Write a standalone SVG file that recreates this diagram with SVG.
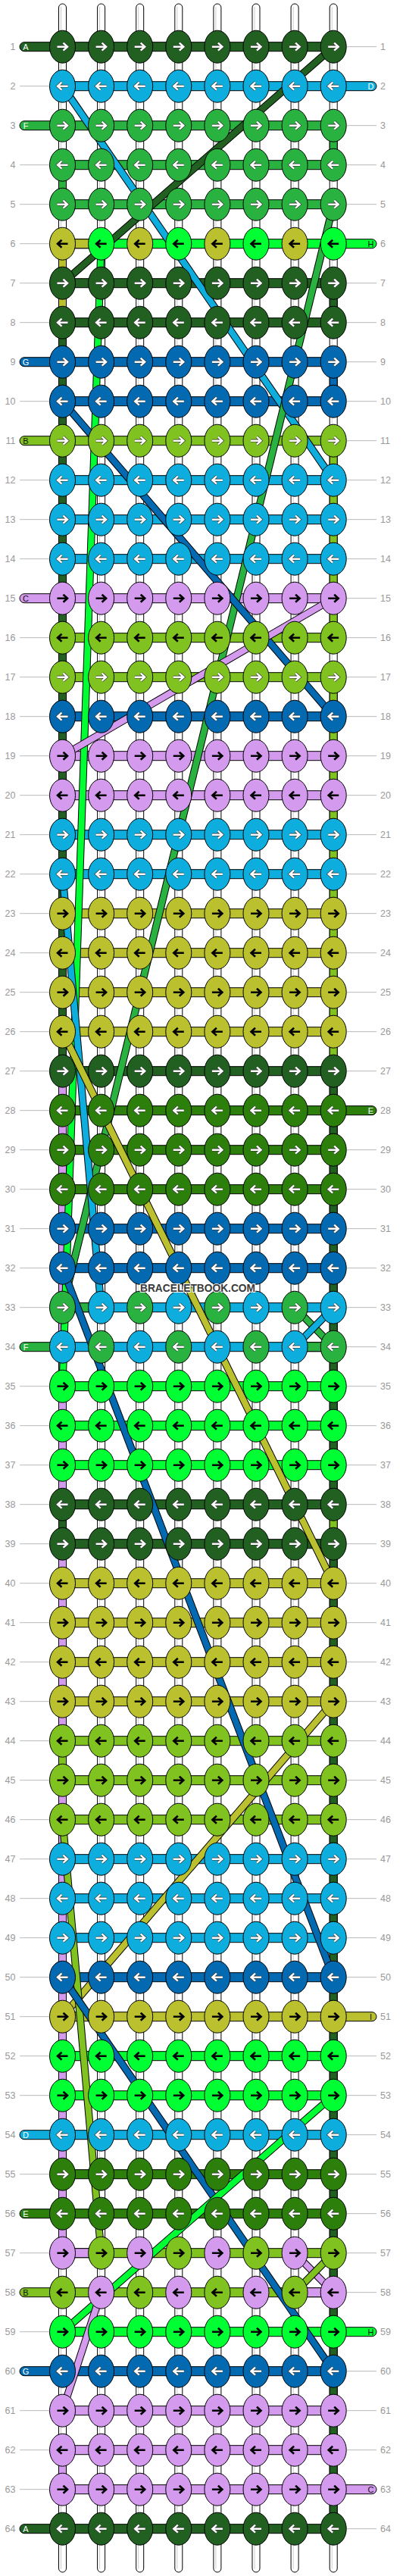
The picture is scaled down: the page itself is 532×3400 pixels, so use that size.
<svg xmlns="http://www.w3.org/2000/svg" width="532" height="3400" viewBox="0 0 532 3400">
<style>
.dg{fill:#216021}.mg{fill:#2b7f0a}.gr{fill:#29b240}.bg{fill:#00ff33}.lb{fill:#0daede}.db{fill:#036ab2}.li{fill:#80c21f}.ol{fill:#bbc12e}.lv{fill:#d49aee}
.xdg{stroke:#216021}.xgr{stroke:#29b240}.xbg{stroke:#00ff33}.xlb{stroke:#0daede}.xdb{stroke:#036ab2}.xli{stroke:#80c21f}.xol{stroke:#bbc12e}.xlv{stroke:#d49aee}
.num{font-family:"Liberation Sans",Arial,sans-serif;font-size:12.5px;fill:#999}
.lab{font-family:"Liberation Sans",Arial,sans-serif;font-size:11px;text-anchor:middle}
.o{stroke:#000;stroke-width:10;fill:none}
.c{stroke-width:8;fill:none}
.sg{stroke:#000;stroke-width:1}
</style>
<defs>
<path id="pr" d="M-7 0H6M1-5L6.5 0L1 5"/>
<path id="pl" d="M7 0H-6M-1-5L-6.5 0L-1 5"/>
<g id="wR" fill="none"><use href="#pr" stroke="#333" stroke-width="3.8"/><use href="#pr" stroke="#fff" stroke-width="2.5"/></g>
<g id="wL" fill="none"><use href="#pl" stroke="#333" stroke-width="3.8"/><use href="#pl" stroke="#fff" stroke-width="2.5"/></g>
<g id="bR" fill="none"><use href="#pr" stroke="#000" stroke-width="2.6"/></g>
<g id="bL" fill="none"><use href="#pl" stroke="#000" stroke-width="2.6"/></g>
<ellipse id="e" rx="17" ry="21.5" stroke="#000" stroke-width="1"/>
<g id="kRw"><use href="#e"/><use href="#wR"/></g>
<g id="kLw"><use href="#e"/><use href="#wL"/></g>
<g id="kRb"><use href="#e"/><use href="#bR"/></g>
<g id="kLb"><use href="#e"/><use href="#bL"/></g>
<g id="RRw"><use href="#kRw" x="82.5"/><use href="#kRw" x="133.6"/><use href="#kRw" x="184.7"/><use href="#kRw" x="235.8"/><use href="#kRw" x="286.9"/><use href="#kRw" x="338"/><use href="#kRw" x="389.1"/><use href="#kRw" x="440.2"/></g>
<g id="RLw"><use href="#kLw" x="82.5"/><use href="#kLw" x="133.6"/><use href="#kLw" x="184.7"/><use href="#kLw" x="235.8"/><use href="#kLw" x="286.9"/><use href="#kLw" x="338"/><use href="#kLw" x="389.1"/><use href="#kLw" x="440.2"/></g>
<g id="RRb"><use href="#kRb" x="82.5"/><use href="#kRb" x="133.6"/><use href="#kRb" x="184.7"/><use href="#kRb" x="235.8"/><use href="#kRb" x="286.9"/><use href="#kRb" x="338"/><use href="#kRb" x="389.1"/><use href="#kRb" x="440.2"/></g>
<g id="RLb"><use href="#kLb" x="82.5"/><use href="#kLb" x="133.6"/><use href="#kLb" x="184.7"/><use href="#kLb" x="235.8"/><use href="#kLb" x="286.9"/><use href="#kLb" x="338"/><use href="#kLb" x="389.1"/><use href="#kLb" x="440.2"/></g>
<rect id="bar" x="82.5" y="-6" width="357.7" height="12" stroke="#000"/>
<rect id="seg" x="0" y="-6" width="51.1" height="12" stroke="#000"/>
<rect id="exl" x="26" y="-6" width="60" height="12" rx="6" stroke="#000"/>
<rect id="exr" x="437" y="-6" width="60" height="12" rx="6" stroke="#000"/>
<path id="d1" d="M440.2 52L82.5 364"/>
<path id="d2" d="M82.5 104L440.2 624"/>
<path id="d3" d="M440.2 260L82.5 1716"/>
<path id="d4" d="M133.6 312L82.5 1820"/>
<path id="d5" d="M82.5 520L440.2 936"/>
<path id="d6" d="M440.2 780L82.5 988"/>
<path id="d7" d="M82.5 1144L133.6 1716"/>
<path id="d8" d="M82.5 1352L440.2 2080"/>
<path id="d9" d="M82.5 1664L440.2 2600"/>
<path id="d10" d="M389.1 1716L440.2 1768"/>
<path id="d11" d="M440.2 1716L389.1 1768"/>
<path id="d12" d="M440.2 2236L82.5 2652"/>
<path id="d13" d="M82.5 2392L133.6 2964"/>
<path id="d14" d="M440.2 2756L82.5 3068"/>
<path id="d15" d="M82.5 2600L440.2 3120"/>
<path id="d16" d="M389.1 2964L440.2 3016"/>
<path id="d17" d="M440.2 2964L389.1 3016"/>
<path id="d18" d="M133.6 3016L82.5 3172"/>
</defs>
<rect width="532" height="3400" fill="#fff"/>
<g transform="translate(0,9.7)">
<g id="guides">
<path stroke="#bbb" stroke-width="1" fill="none" d="M26 52H65M458 52H497M26 104H65M458 104H497M26 156H65M458 156H497M26 208H65M458 208H497M26 260H65M458 260H497M26 312H65M458 312H497M26 364H65M458 364H497M26 416H65M458 416H497M26 468H65M458 468H497M26 520H65M458 520H497M26 572H65M458 572H497M26 624H65M458 624H497M26 676H65M458 676H497M26 728H65M458 728H497M26 780H65M458 780H497M26 832H65M458 832H497M26 884H65M458 884H497M26 936H65M458 936H497M26 988H65M458 988H497M26 1040H65M458 1040H497M26 1092H65M458 1092H497M26 1144H65M458 1144H497M26 1196H65M458 1196H497M26 1248H65M458 1248H497M26 1300H65M458 1300H497M26 1352H65M458 1352H497M26 1404H65M458 1404H497M26 1456H65M458 1456H497M26 1508H65M458 1508H497M26 1560H65M458 1560H497M26 1612H65M458 1612H497M26 1664H65M458 1664H497M26 1716H65M458 1716H497M26 1768H65M458 1768H497M26 1820H65M458 1820H497M26 1872H65M458 1872H497M26 1924H65M458 1924H497M26 1976H65M458 1976H497M26 2028H65M458 2028H497M26 2080H65M458 2080H497M26 2132H65M458 2132H497M26 2184H65M458 2184H497M26 2236H65M458 2236H497M26 2288H65M458 2288H497M26 2340H65M458 2340H497M26 2392H65M458 2392H497M26 2444H65M458 2444H497M26 2496H65M458 2496H497M26 2548H65M458 2548H497M26 2600H65M458 2600H497M26 2652H65M458 2652H497M26 2704H65M458 2704H497M26 2756H65M458 2756H497M26 2808H65M458 2808H497M26 2860H65M458 2860H497M26 2912H65M458 2912H497M26 2964H65M458 2964H497M26 3016H65M458 3016H497M26 3068H65M458 3068H497M26 3120H65M458 3120H497M26 3172H65M458 3172H497M26 3224H65M458 3224H497M26 3276H65M458 3276H497M26 3328H65M458 3328H497"/>
<g class="num" text-anchor="end">
<text x="20.5" y="56.5">1</text><text x="20.5" y="108.5">2</text><text x="20.5" y="160.5">3</text><text x="20.5" y="212.5">4</text><text x="20.5" y="264.5">5</text><text x="20.5" y="316.5">6</text><text x="20.5" y="368.5">7</text><text x="20.5" y="420.5">8</text><text x="20.5" y="472.5">9</text><text x="20.5" y="524.5">10</text><text x="20.5" y="576.5">11</text><text x="20.5" y="628.5">12</text><text x="20.5" y="680.5">13</text><text x="20.5" y="732.5">14</text><text x="20.5" y="784.5">15</text><text x="20.5" y="836.5">16</text><text x="20.5" y="888.5">17</text><text x="20.5" y="940.5">18</text><text x="20.5" y="992.5">19</text><text x="20.5" y="1044.5">20</text><text x="20.5" y="1096.5">21</text><text x="20.5" y="1148.5">22</text><text x="20.5" y="1200.5">23</text><text x="20.5" y="1252.5">24</text><text x="20.5" y="1304.5">25</text><text x="20.5" y="1356.5">26</text><text x="20.5" y="1408.5">27</text><text x="20.5" y="1460.5">28</text><text x="20.5" y="1512.5">29</text><text x="20.5" y="1564.5">30</text><text x="20.5" y="1616.5">31</text><text x="20.5" y="1668.5">32</text><text x="20.5" y="1720.5">33</text><text x="20.5" y="1772.5">34</text><text x="20.5" y="1824.5">35</text><text x="20.5" y="1876.5">36</text><text x="20.5" y="1928.5">37</text><text x="20.5" y="1980.5">38</text><text x="20.5" y="2032.5">39</text><text x="20.5" y="2084.5">40</text><text x="20.5" y="2136.5">41</text><text x="20.5" y="2188.5">42</text><text x="20.5" y="2240.5">43</text><text x="20.5" y="2292.5">44</text><text x="20.5" y="2344.5">45</text><text x="20.5" y="2396.5">46</text><text x="20.5" y="2448.5">47</text><text x="20.5" y="2500.5">48</text><text x="20.5" y="2552.5">49</text><text x="20.5" y="2604.5">50</text><text x="20.5" y="2656.5">51</text><text x="20.5" y="2708.5">52</text><text x="20.5" y="2760.5">53</text><text x="20.5" y="2812.5">54</text><text x="20.5" y="2864.5">55</text><text x="20.5" y="2916.5">56</text><text x="20.5" y="2968.5">57</text><text x="20.5" y="3020.5">58</text><text x="20.5" y="3072.5">59</text><text x="20.5" y="3124.5">60</text><text x="20.5" y="3176.5">61</text><text x="20.5" y="3228.5">62</text><text x="20.5" y="3280.5">63</text><text x="20.5" y="3332.5">64</text>
</g>
<g class="num">
<text x="502" y="56.5">1</text><text x="502" y="108.5">2</text><text x="502" y="160.5">3</text><text x="502" y="212.5">4</text><text x="502" y="264.5">5</text><text x="502" y="316.5">6</text><text x="502" y="368.5">7</text><text x="502" y="420.5">8</text><text x="502" y="472.5">9</text><text x="502" y="524.5">10</text><text x="502" y="576.5">11</text><text x="502" y="628.5">12</text><text x="502" y="680.5">13</text><text x="502" y="732.5">14</text><text x="502" y="784.5">15</text><text x="502" y="836.5">16</text><text x="502" y="888.5">17</text><text x="502" y="940.5">18</text><text x="502" y="992.5">19</text><text x="502" y="1044.5">20</text><text x="502" y="1096.5">21</text><text x="502" y="1148.5">22</text><text x="502" y="1200.5">23</text><text x="502" y="1252.5">24</text><text x="502" y="1304.5">25</text><text x="502" y="1356.5">26</text><text x="502" y="1408.5">27</text><text x="502" y="1460.5">28</text><text x="502" y="1512.5">29</text><text x="502" y="1564.5">30</text><text x="502" y="1616.5">31</text><text x="502" y="1668.5">32</text><text x="502" y="1720.5">33</text><text x="502" y="1772.5">34</text><text x="502" y="1824.5">35</text><text x="502" y="1876.5">36</text><text x="502" y="1928.5">37</text><text x="502" y="1980.5">38</text><text x="502" y="2032.5">39</text><text x="502" y="2084.5">40</text><text x="502" y="2136.5">41</text><text x="502" y="2188.5">42</text><text x="502" y="2240.5">43</text><text x="502" y="2292.5">44</text><text x="502" y="2344.5">45</text><text x="502" y="2396.5">46</text><text x="502" y="2448.5">47</text><text x="502" y="2500.5">48</text><text x="502" y="2552.5">49</text><text x="502" y="2604.5">50</text><text x="502" y="2656.5">51</text><text x="502" y="2708.5">52</text><text x="502" y="2760.5">53</text><text x="502" y="2812.5">54</text><text x="502" y="2864.5">55</text><text x="502" y="2916.5">56</text><text x="502" y="2968.5">57</text><text x="502" y="3020.5">58</text><text x="502" y="3072.5">59</text><text x="502" y="3124.5">60</text><text x="502" y="3176.5">61</text><text x="502" y="3228.5">62</text><text x="502" y="3280.5">63</text><text x="502" y="3332.5">64</text>
</g>
</g>
<g id="strings">
<g fill="#fff" stroke="#000" stroke-width="1">
<rect x="77.5" y="-4.7" width="10" height="3390" rx="5"/><rect x="128.6" y="-4.7" width="10" height="3390" rx="5"/><rect x="179.7" y="-4.7" width="10" height="3390" rx="5"/><rect x="230.8" y="-4.7" width="10" height="3390" rx="5"/><rect x="281.9" y="-4.7" width="10" height="3390" rx="5"/><rect x="333" y="-4.7" width="10" height="3390" rx="5"/><rect x="384.1" y="-4.7" width="10" height="3390" rx="5"/><rect x="435.2" y="-4.7" width="10" height="3390" rx="5"/>
</g>
<g fill="none" stroke="#ccc" stroke-width="1">
<path d="M80.5-1V3381M131.6-1V3381M182.7-1V3381M233.8-1V3381M284.9-1V3381M336-1V3381M387.1-1V3381M438.2-1V3381"/>
</g>
<rect class="sg gr" x="77.5" y="208" width="10" height="52"/>
<rect class="sg ol" x="77.5" y="312" width="10" height="104"/>
<rect class="sg dg" x="77.5" y="416" width="10" height="988"/>
<rect class="sg lv" x="77.5" y="1404" width="10" height="572"/>
<rect class="sg dg" x="77.5" y="1976" width="10" height="52"/>
<rect class="sg lv" x="77.5" y="2028" width="10" height="260"/>
<rect class="sg li" x="77.5" y="2288" width="10" height="52"/>
<rect class="sg lv" x="77.5" y="2340" width="10" height="624"/>
<rect class="sg lv" x="77.5" y="3224" width="10" height="52"/>
<rect class="sg gr" x="435.2" y="156" width="10" height="52"/>
<rect class="sg dg" x="435.2" y="364" width="10" height="52"/>
<rect class="sg db" x="435.2" y="468" width="10" height="52"/>
<rect class="sg li" x="435.2" y="572" width="10" height="260"/>
<rect class="sg li" x="435.2" y="884" width="10" height="520"/>
<rect class="sg dg" x="435.2" y="1404" width="10" height="572"/>
<rect class="sg li" x="435.2" y="1976" width="10" height="52"/>
<rect class="sg dg" x="435.2" y="2028" width="10" height="1300"/>
</g>
<g id="bars">
<use href="#bar" y="52" class="dg"/><use href="#bar" y="104" class="lb"/><use href="#bar" y="156" class="gr"/><use href="#bar" y="208" class="gr"/><use href="#bar" y="260" class="gr"/><use href="#bar" y="312" class="bg"/><use href="#bar" y="364" class="dg"/><use href="#bar" y="416" class="dg"/><use href="#bar" y="468" class="db"/><use href="#bar" y="520" class="db"/><use href="#bar" y="572" class="li"/><use href="#bar" y="624" class="lb"/><use href="#bar" y="676" class="lb"/><use href="#bar" y="728" class="lb"/><use href="#bar" y="780" class="lv"/><use href="#bar" y="832" class="li"/><use href="#bar" y="884" class="li"/><use href="#bar" y="936" class="db"/><use href="#bar" y="988" class="lv"/><use href="#bar" y="1040" class="lv"/><use href="#bar" y="1092" class="lb"/><use href="#bar" y="1144" class="lb"/><use href="#bar" y="1196" class="ol"/><use href="#bar" y="1248" class="ol"/><use href="#bar" y="1300" class="ol"/><use href="#bar" y="1352" class="ol"/><use href="#bar" y="1404" class="dg"/><use href="#bar" y="1456" class="mg"/><use href="#bar" y="1508" class="mg"/><use href="#bar" y="1560" class="mg"/><use href="#bar" y="1612" class="db"/><use href="#bar" y="1664" class="db"/><use href="#bar" y="1716" class="lb"/><use href="#bar" y="1768" class="lb"/><use href="#bar" y="1820" class="bg"/><use href="#bar" y="1872" class="bg"/><use href="#bar" y="1924" class="bg"/><use href="#bar" y="1976" class="dg"/><use href="#bar" y="2028" class="dg"/><use href="#bar" y="2080" class="ol"/><use href="#bar" y="2132" class="ol"/><use href="#bar" y="2184" class="ol"/><use href="#bar" y="2236" class="ol"/><use href="#bar" y="2288" class="li"/><use href="#bar" y="2340" class="li"/><use href="#bar" y="2392" class="li"/><use href="#bar" y="2444" class="lb"/><use href="#bar" y="2496" class="lb"/><use href="#bar" y="2548" class="lb"/><use href="#bar" y="2600" class="db"/><use href="#bar" y="2652" class="ol"/><use href="#bar" y="2704" class="bg"/><use href="#bar" y="2756" class="bg"/><use href="#bar" y="2808" class="lb"/><use href="#bar" y="2860" class="mg"/><use href="#bar" y="2912" class="mg"/><use href="#bar" y="2964" class="li"/><use href="#bar" y="3016" class="li"/><use href="#bar" y="3068" class="bg"/><use href="#bar" y="3120" class="db"/><use href="#bar" y="3172" class="lv"/><use href="#bar" y="3224" class="lv"/><use href="#bar" y="3276" class="lv"/><use href="#bar" y="3328" class="dg"/>
<use href="#seg" x="82.5" y="312" class="ol"/><use href="#seg" x="82.5" y="1716" class="gr"/><use href="#seg" x="389.1" y="1768" class="gr"/><use href="#seg" x="82.5" y="2964" class="lv"/><use href="#seg" x="389.1" y="3016" class="lv"/>
<use href="#exl" y="52" class="dg"/><use href="#exl" y="156" class="gr"/><use href="#exl" y="468" class="db"/><use href="#exl" y="572" class="li"/><use href="#exl" y="780" class="lv"/><use href="#exl" y="1768" class="gr"/><use href="#exl" y="2808" class="lb"/><use href="#exl" y="2912" class="mg"/><use href="#exl" y="3016" class="li"/><use href="#exl" y="3120" class="db"/><use href="#exl" y="3328" class="dg"/>
<use href="#exr" y="104" class="lb"/><use href="#exr" y="312" class="bg"/><use href="#exr" y="1456" class="mg"/><use href="#exr" y="2652" class="ol"/><use href="#exr" y="3068" class="bg"/><use href="#exr" y="3276" class="lv"/>
<g class="lab">
<text x="34" y="56" fill="#fff">A</text><text x="34" y="160" fill="#fff">F</text><text x="34" y="472" fill="#fff">G</text><text x="34" y="576" fill="#111">B</text><text x="34" y="784" fill="#111">C</text><text x="34" y="1772" fill="#fff">F</text><text x="34" y="2812" fill="#fff">D</text><text x="34" y="2916" fill="#fff">E</text><text x="34" y="3020" fill="#111">B</text><text x="34" y="3124" fill="#fff">G</text><text x="34" y="3332" fill="#fff">A</text>
<text x="489.5" y="108" fill="#fff">D</text><text x="489.5" y="316" fill="#111">H</text><text x="489.5" y="1460" fill="#fff">E</text><text x="489.5" y="2656" fill="#111">I</text><text x="489.5" y="3072" fill="#111">H</text><text x="489.5" y="3280" fill="#111">C</text>
</g>
</g>
<g id="connectors">
<use href="#d1" class="o"/><use href="#d1" class="c xdg"/>
<use href="#d2" class="o"/><use href="#d2" class="c xlb"/>
<use href="#d3" class="o"/><use href="#d3" class="c xgr"/>
<use href="#d4" class="o"/><use href="#d4" class="c xbg"/>
<use href="#d5" class="o"/><use href="#d5" class="c xdb"/>
<use href="#d6" class="o"/><use href="#d6" class="c xlv"/>
<use href="#d7" class="o"/><use href="#d7" class="c xlb"/>
<use href="#d8" class="o"/><use href="#d8" class="c xol"/>
<use href="#d9" class="o"/><use href="#d9" class="c xdb"/>
<use href="#d10" class="o"/><use href="#d10" class="c xgr"/>
<use href="#d11" class="o"/><use href="#d11" class="c xlb"/>
<use href="#d12" class="o"/><use href="#d12" class="c xol"/>
<use href="#d13" class="o"/><use href="#d13" class="c xli"/>
<use href="#d15" class="o"/><use href="#d15" class="c xdb"/>
<use href="#d14" class="o"/><use href="#d14" class="c xbg"/>
<use href="#d16" class="o"/><use href="#d16" class="c xlv"/>
<use href="#d17" class="o"/><use href="#d17" class="c xli"/>
<use href="#d18" class="o"/><use href="#d18" class="c xlv"/>
</g>
<g id="knots">
<g id="row1"><use href="#RRw" y="52" class="dg"/></g>
<g id="row2"><use href="#RLw" y="104" class="lb"/></g>
<g id="row3"><use href="#RRw" y="156" class="gr"/></g>
<g id="row4"><use href="#RLw" y="208" class="gr"/></g>
<g id="row5"><use href="#RRw" y="260" class="gr"/></g>
<g id="row6"><use href="#kLb" x="82.5" y="312" class="ol"/><use href="#kLb" x="133.6" y="312" class="bg"/><use href="#kLb" x="184.7" y="312" class="ol"/><use href="#kLb" x="235.8" y="312" class="bg"/><use href="#kLb" x="286.9" y="312" class="ol"/><use href="#kLb" x="338" y="312" class="bg"/><use href="#kLb" x="389.1" y="312" class="ol"/><use href="#kLb" x="440.2" y="312" class="bg"/></g>
<g id="row7"><use href="#RRw" y="364" class="dg"/></g>
<g id="row8"><use href="#RLw" y="416" class="dg"/></g>
<g id="row9"><use href="#RRw" y="468" class="db"/></g>
<g id="row10"><use href="#RLw" y="520" class="db"/></g>
<g id="row11"><use href="#RRw" y="572" class="li"/></g>
<g id="row12"><use href="#RLw" y="624" class="lb"/></g>
<g id="row13"><use href="#RRw" y="676" class="lb"/></g>
<g id="row14"><use href="#RLw" y="728" class="lb"/></g>
<g id="row15"><use href="#RRb" y="780" class="lv"/></g>
<g id="row16"><use href="#RLb" y="832" class="li"/></g>
<g id="row17"><use href="#RRw" y="884" class="li"/></g>
<g id="row18"><use href="#RLw" y="936" class="db"/></g>
<g id="row19"><use href="#RRb" y="988" class="lv"/></g>
<g id="row20"><use href="#RLb" y="1040" class="lv"/></g>
<g id="row21"><use href="#RRw" y="1092" class="lb"/></g>
<g id="row22"><use href="#RLw" y="1144" class="lb"/></g>
<g id="row23"><use href="#RRb" y="1196" class="ol"/></g>
<g id="row24"><use href="#RLb" y="1248" class="ol"/></g>
<g id="row25"><use href="#RRb" y="1300" class="ol"/></g>
<g id="row26"><use href="#RLb" y="1352" class="ol"/></g>
<g id="row27"><use href="#RRw" y="1404" class="dg"/></g>
<g id="row28"><use href="#RLw" y="1456" class="mg"/></g>
<g id="row29"><use href="#RRw" y="1508" class="mg"/></g>
<g id="row30"><use href="#RLw" y="1560" class="mg"/></g>
<g id="row31"><use href="#RRw" y="1612" class="db"/></g>
<g id="row32"><use href="#RLw" y="1664" class="db"/></g>
<g id="row33"><use href="#kRw" x="82.5" y="1716" class="gr"/><use href="#kRw" x="133.6" y="1716" class="lb"/><use href="#kRw" x="184.7" y="1716" class="gr"/><use href="#kRw" x="235.8" y="1716" class="lb"/><use href="#kRw" x="286.9" y="1716" class="gr"/><use href="#kRw" x="338" y="1716" class="lb"/><use href="#kRw" x="389.1" y="1716" class="gr"/><use href="#kRw" x="440.2" y="1716" class="lb"/></g>
<g id="row34"><use href="#kLw" x="82.5" y="1768" class="lb"/><use href="#kLw" x="133.6" y="1768" class="gr"/><use href="#kLw" x="184.7" y="1768" class="lb"/><use href="#kLw" x="235.8" y="1768" class="gr"/><use href="#kLw" x="286.9" y="1768" class="lb"/><use href="#kLw" x="338" y="1768" class="gr"/><use href="#kLw" x="389.1" y="1768" class="lb"/><use href="#kLw" x="440.2" y="1768" class="gr"/></g>
<g id="row35"><use href="#RRb" y="1820" class="bg"/></g>
<g id="row36"><use href="#RLb" y="1872" class="bg"/></g>
<g id="row37"><use href="#RRb" y="1924" class="bg"/></g>
<g id="row38"><use href="#RLw" y="1976" class="dg"/></g>
<g id="row39"><use href="#RRw" y="2028" class="dg"/></g>
<g id="row40"><use href="#RLb" y="2080" class="ol"/></g>
<g id="row41"><use href="#RRb" y="2132" class="ol"/></g>
<g id="row42"><use href="#RLb" y="2184" class="ol"/></g>
<g id="row43"><use href="#RRb" y="2236" class="ol"/></g>
<g id="row44"><use href="#RLb" y="2288" class="li"/></g>
<g id="row45"><use href="#RRb" y="2340" class="li"/></g>
<g id="row46"><use href="#RLb" y="2392" class="li"/></g>
<g id="row47"><use href="#RRw" y="2444" class="lb"/></g>
<g id="row48"><use href="#RLw" y="2496" class="lb"/></g>
<g id="row49"><use href="#RRw" y="2548" class="lb"/></g>
<g id="row50"><use href="#RLw" y="2600" class="db"/></g>
<g id="row51"><use href="#RRb" y="2652" class="ol"/></g>
<g id="row52"><use href="#RLb" y="2704" class="bg"/></g>
<g id="row53"><use href="#RRb" y="2756" class="bg"/></g>
<g id="row54"><use href="#RLw" y="2808" class="lb"/></g>
<g id="row55"><use href="#RRw" y="2860" class="mg"/></g>
<g id="row56"><use href="#RLw" y="2912" class="mg"/></g>
<g id="row57"><use href="#kRb" x="82.5" y="2964" class="lv"/><use href="#kRb" x="133.6" y="2964" class="li"/><use href="#kRb" x="184.7" y="2964" class="lv"/><use href="#kRb" x="235.8" y="2964" class="li"/><use href="#kRb" x="286.9" y="2964" class="lv"/><use href="#kRb" x="338" y="2964" class="li"/><use href="#kRb" x="389.1" y="2964" class="lv"/><use href="#kRb" x="440.2" y="2964" class="li"/></g>
<g id="row58"><use href="#kLb" x="82.5" y="3016" class="li"/><use href="#kLb" x="133.6" y="3016" class="lv"/><use href="#kLb" x="184.7" y="3016" class="li"/><use href="#kLb" x="235.8" y="3016" class="lv"/><use href="#kLb" x="286.9" y="3016" class="li"/><use href="#kLb" x="338" y="3016" class="lv"/><use href="#kLb" x="389.1" y="3016" class="li"/><use href="#kLb" x="440.2" y="3016" class="lv"/></g>
<g id="row59"><use href="#RRb" y="3068" class="bg"/></g>
<g id="row60"><use href="#RLw" y="3120" class="db"/></g>
<g id="row61"><use href="#RRb" y="3172" class="lv"/></g>
<g id="row62"><use href="#RLb" y="3224" class="lv"/></g>
<g id="row63"><use href="#RRb" y="3276" class="lv"/></g>
<g id="row64"><use href="#RLw" y="3328" class="dg"/></g>
</g>
<text x="261" y="1695.5" text-anchor="middle" font-family="'Liberation Sans',Arial,sans-serif" font-weight="bold" font-size="15" textLength="152" lengthAdjust="spacingAndGlyphs" fill="#3a3a3a" stroke="#fff" stroke-width="2" paint-order="stroke">BRACELETBOOK.COM</text>
</g>
</svg>
